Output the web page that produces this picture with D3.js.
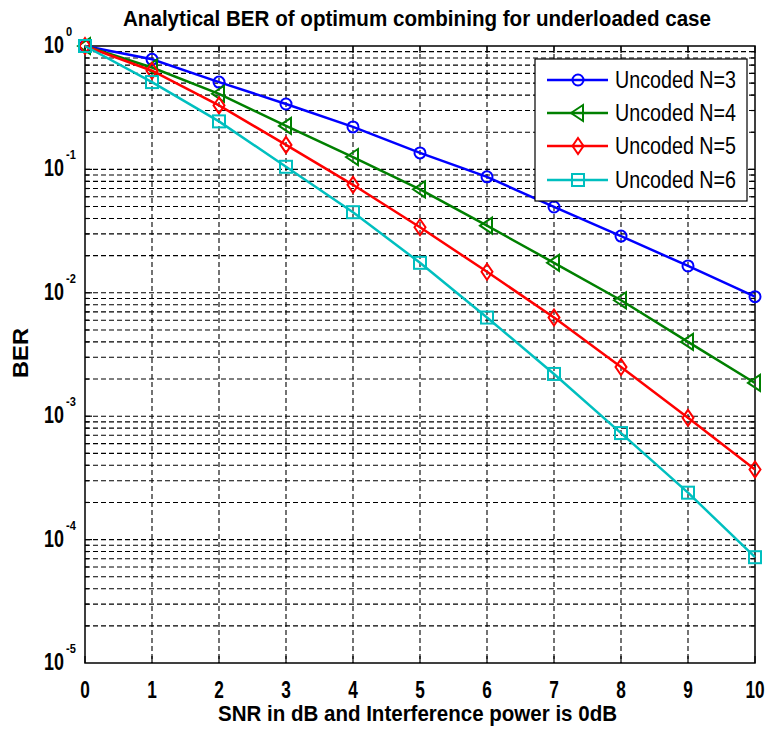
<!DOCTYPE html>
<html><head><meta charset="utf-8">
<script src="https://cdn.jsdelivr.net/npm/d3@7"></script>
<style>body{margin:0;background:#fff}svg{display:block}text{font-family:"Liberation Sans",Arial,sans-serif}</style>
</head><body><svg id="c" width="769" height="729"></svg>
<script>
const snr = [0,1,2,3,4,5,6,7,8,9,10];
const ber3 = [1, 0.78, 0.51, 0.339, 0.221, 0.136, 0.087, 0.0496, 0.0288, 0.0165, 0.0093];
const ber4 = [1, 0.67, 0.41, 0.225, 0.126, 0.069, 0.035, 0.0175, 0.0087, 0.0040, 0.00186];
const ber5 = [1, 0.63, 0.33, 0.158, 0.075, 0.034, 0.0148, 0.0063, 0.0025, 0.00097, 0.00037];
const ber6 = [1, 0.51, 0.245, 0.105, 0.045, 0.0175, 0.0063, 0.0022, 0.00073, 0.00024, 0.000072];
const seriesNames = ["Uncoded N=3","Uncoded N=4","Uncoded N=5","Uncoded N=6"];
const seriesColors = ["#0000ff","#008000","#ff0000","#00bfbf"];
const seriesMarkers = ["circle","triLeft","diamond","square"];
const xTicks = [0,1,2,3,4,5,6,7,8,9,10];
const yExps = [0,-1,-2,-3,-4,-5];
const titleText = "Analytical BER of optimum combining for underloaded case";
const xLabel = "SNR in dB and Interference power is 0dB";
const yLabel = "BER";

const svg = d3.select("#c");
const L=85, R=755, T=46, B=663;
const x = d3.scaleLinear().domain([0,10]).range([L,R]);
const y = d3.scaleLog().domain([1e-5,1]).range([B,T]);

const g = svg.append("g");
// grid
const dash = "5,3";
const minor = [];
for (let e=-5;e<0;e++) for (let k=1;k<10;k++) minor.push(k*Math.pow(10,e));
g.selectAll(".hg").data(minor.filter(v=>v>1e-5)).enter().append("line")
  .attr("x1",L).attr("x2",R).attr("y1",d=>y(d)).attr("y2",d=>y(d))
  .attr("stroke","#000").attr("stroke-width",1.1).attr("stroke-dasharray",dash);
g.selectAll(".vg").data(xTicks.filter(v=>v>0&&v<10)).enter().append("line")
  .attr("x1",d=>x(d)).attr("x2",d=>x(d)).attr("y1",T).attr("y2",B)
  .attr("stroke","#000").attr("stroke-width",1.1).attr("stroke-dasharray",dash);

// ticks inside on all sides
const tk = g.append("g").attr("stroke","#000").attr("stroke-width",1.2);
xTicks.forEach(v=>{
  tk.append("line").attr("x1",x(v)).attr("x2",x(v)).attr("y1",B).attr("y2",B-7);
  tk.append("line").attr("x1",x(v)).attr("x2",x(v)).attr("y1",T).attr("y2",T+7);
});
minor.filter(v=>v>1e-5).forEach(v=>{
  const isMaj = Math.abs(Math.log10(v)-Math.round(Math.log10(v)))<1e-9;
  const len = isMaj?7:4;
  tk.append("line").attr("x1",L).attr("x2",L+len).attr("y1",y(v)).attr("y2",y(v));
  tk.append("line").attr("x1",R).attr("x2",R-len).attr("y1",y(v)).attr("y2",y(v));
});
g.append("rect").attr("x",L).attr("y",T).attr("width",R-L).attr("height",B-T)
  .attr("fill","none").attr("stroke","#000").attr("stroke-width",1.5);

function marker(sel, type, cx, cy, color){
  const s = 6;
  if(type==="circle") sel.append("circle").attr("cx",cx).attr("cy",cy).attr("r",5.5);
  else if(type==="square") sel.append("rect").attr("x",cx-s).attr("y",cy-s).attr("width",2*s).attr("height",2*s);
  else if(type==="diamond") sel.append("path").attr("d",`M${cx},${cy-8}L${cx+5.5},${cy}L${cx},${cy+8}L${cx-5.5},${cy}Z`);
  else if(type==="triLeft") sel.append("path").attr("d",`M${cx-7},${cy}L${cx+5},${cy-8}L${cx+5},${cy+8}Z`);
}
const allSeries = [ber3,ber4,ber5,ber6];
const line = d3.line().x((d,i)=>x(snr[i])).y(d=>y(d));
allSeries.forEach((ser,si)=>{
  const c = seriesColors[si];
  g.append("path").datum(ser).attr("d",line).attr("fill","none").attr("stroke",c).attr("stroke-width",2.5);
  const mg = g.append("g").attr("fill","none").attr("stroke",c).attr("stroke-width",2);
  ser.forEach((v,i)=>marker(mg,seriesMarkers[si],x(snr[i]),y(v),c));
});

// text helper with horizontal condense
function txt(str, tx, ty, size, weight, anchor, sx){
  return svg.append("text").attr("transform",`translate(${tx},${ty}) scale(${sx},1)`)
    .attr("font-size",size).attr("font-weight",weight).attr("text-anchor",anchor).attr("fill","#000").text(str);
}
// x tick labels
xTicks.forEach(v=>txt(String(v), x(v), 698, 23, "bold", "middle", 0.75));
// y tick labels
yExps.forEach(e=>{
  const yy = y(Math.pow(10,e));
  txt("10", 64, yy+7, 23, "bold", "end", 0.78);
  txt(String(e), 66, yy-10, 13, "bold", "start", 0.85);
});
// title
svg.append("text").attr("x",(123+711)/2).attr("y",26).attr("text-anchor","middle")
  .attr("font-size",22).attr("font-weight","bold").attr("textLength",588).attr("lengthAdjust","spacingAndGlyphs").text(titleText);
svg.append("text").attr("x",(218+617)/2).attr("y",721).attr("text-anchor","middle")
  .attr("font-size",22).attr("font-weight","bold").attr("textLength",399).attr("lengthAdjust","spacingAndGlyphs").text(xLabel);
svg.append("text").attr("transform","translate(28,353) rotate(-90)").attr("text-anchor","middle")
  .attr("font-size",22).attr("font-weight","bold").attr("textLength",50).attr("lengthAdjust","spacingAndGlyphs").text(yLabel);

// legend
const lg = svg.append("g");
lg.append("rect").attr("x",535).attr("y",59).attr("width",212).attr("height",142).attr("fill","#fff").attr("stroke","#000").attr("stroke-width",1.2);
const rowY = [80,113,146,180];
seriesNames.forEach((n,i)=>{
  const c = seriesColors[i];
  lg.append("line").attr("x1",547).attr("x2",608).attr("y1",rowY[i]).attr("y2",rowY[i]).attr("stroke",c).attr("stroke-width",2.5);
  const mg = lg.append("g").attr("fill","none").attr("stroke",c).attr("stroke-width",2);
  marker(mg,seriesMarkers[i],578,rowY[i],c);
  lg.append("text").attr("x",615).attr("y",rowY[i]+8).attr("font-size",23).attr("textLength",121).attr("lengthAdjust","spacingAndGlyphs").text(n);
});
</script></body></html>
